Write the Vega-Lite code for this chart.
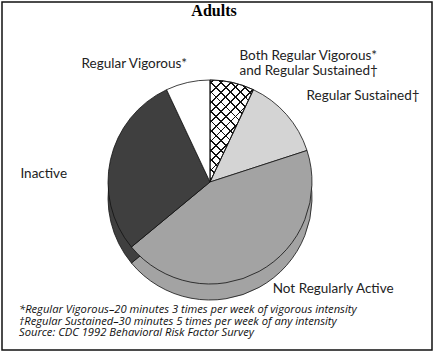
{
  "$schema": "https://vega.github.io/schema/vega-lite/v6.json",
  "background": "white",
  "padding": {"left": 1, "top": 1, "right": 9, "bottom": 10},
  "title": {"text": "Adults", "anchor": "middle", "frame": "group", "orient": "top", "offset": -23.5, "dx": -3, "dy": 7, "baseline": "alphabetic", "zindex": 1, "font": "Liberation Serif", "fontSize": 16, "fontWeight": "bold", "color": "#000"},
  "vconcat": [
    {
      "width": 430,
      "height": 348,
      "view": {"stroke": "#111", "strokeWidth": 1.5},
      "title": {
        "text": ["*Regular Vigorous–20 minutes 3 times per week of vigorous intensity", "†Regular Sustained–30 minutes 5 times per week of any intensity", "Source: CDC 1992 Behavioral Risk Factor Survey"],
        "orient": "bottom", "anchor": "start", "frame": "group", "offset": -46, "dx": 17, "baseline": "top",
        "font": "Open Sans", "fontSize": 11.2, "fontStyle": "italic", "fontWeight": "normal", "lineHeight": 11.6, "color": "#111"
      },
      "data": {"values": [
        {"category": "Both", "label": "Both Regular Vigorous*\nand Regular Sustained†", "value": 7},
        {"category": "Sustained", "label": "Regular Sustained†", "value": 13},
        {"category": "Not Regularly Active", "label": "Not Regularly Active", "value": 44},
        {"category": "Inactive", "label": "Inactive", "value": 29},
        {"category": "Vigorous", "label": "Regular Vigorous*", "value": 7}
      ]},
      "transform": [{"stack": "value", "groupby": [], "as": ["v0", "v1"]}],
      "layer": [
        {
          "mark": {"type": "arc", "outerRadius": 102, "xOffset": -7, "yOffset": 22, "stroke": "#111", "strokeWidth": 0.8},
          "encoding": {
            "theta": {"field": "v0", "type": "quantitative", "scale": {"domain": [0, 100]}},
            "theta2": {"field": "v1"},
            "color": {"field": "category", "type": "nominal", "legend": null,
              "scale": {"domain": ["Both", "Sustained", "Not Regularly Active", "Inactive", "Vigorous"], "range": ["#ffffff", "#d4d4d4", "#a3a3a3", "#3f3f3f", "#ffffff"]}}
          }
        },
        {
          "mark": {"type": "arc", "outerRadius": 102, "xOffset": -7, "yOffset": 6, "stroke": "#111", "strokeWidth": 0.8},
          "encoding": {
            "theta": {"field": "v0", "type": "quantitative", "scale": {"domain": [0, 100]}},
            "theta2": {"field": "v1"},
            "color": {"field": "category", "type": "nominal", "legend": null,
              "scale": {"domain": ["Both", "Sustained", "Not Regularly Active", "Inactive", "Vigorous"], "range": ["#ffffff", "#d4d4d4", "#a3a3a3", "#3f3f3f", "#ffffff"]}}
          }
        },
        {
          "transform": [{"filter": "datum.category === 'Both'"}],
          "mark": {"type": "arc", "outerRadius": 102, "xOffset": -7, "yOffset": 6, "strokeWidth": 0,
            "fill": {"gradient": "linear", "x1": 0, "y1": 1, "x2": 0.514, "y2": -0.207, "stops": [
              {"offset": 0.02, "color": "rgba(0,0,0,0)"}, {"offset": 0.02, "color": "#111"}, {"offset": 0.032, "color": "#111"}, {"offset": 0.032, "color": "rgba(0,0,0,0)"},
              {"offset": 0.0867, "color": "rgba(0,0,0,0)"}, {"offset": 0.0867, "color": "#111"}, {"offset": 0.0987, "color": "#111"}, {"offset": 0.0987, "color": "rgba(0,0,0,0)"},
              {"offset": 0.1533, "color": "rgba(0,0,0,0)"}, {"offset": 0.1533, "color": "#111"}, {"offset": 0.1653, "color": "#111"}, {"offset": 0.1653, "color": "rgba(0,0,0,0)"},
              {"offset": 0.22, "color": "rgba(0,0,0,0)"}, {"offset": 0.22, "color": "#111"}, {"offset": 0.232, "color": "#111"}, {"offset": 0.232, "color": "rgba(0,0,0,0)"},
              {"offset": 0.2867, "color": "rgba(0,0,0,0)"}, {"offset": 0.2867, "color": "#111"}, {"offset": 0.2987, "color": "#111"}, {"offset": 0.2987, "color": "rgba(0,0,0,0)"},
              {"offset": 0.3533, "color": "rgba(0,0,0,0)"}, {"offset": 0.3533, "color": "#111"}, {"offset": 0.3653, "color": "#111"}, {"offset": 0.3653, "color": "rgba(0,0,0,0)"},
              {"offset": 0.42, "color": "rgba(0,0,0,0)"}, {"offset": 0.42, "color": "#111"}, {"offset": 0.432, "color": "#111"}, {"offset": 0.432, "color": "rgba(0,0,0,0)"},
              {"offset": 0.4867, "color": "rgba(0,0,0,0)"}, {"offset": 0.4867, "color": "#111"}, {"offset": 0.4987, "color": "#111"}, {"offset": 0.4987, "color": "rgba(0,0,0,0)"},
              {"offset": 0.5533, "color": "rgba(0,0,0,0)"}, {"offset": 0.5533, "color": "#111"}, {"offset": 0.5653, "color": "#111"}, {"offset": 0.5653, "color": "rgba(0,0,0,0)"},
              {"offset": 0.62, "color": "rgba(0,0,0,0)"}, {"offset": 0.62, "color": "#111"}, {"offset": 0.632, "color": "#111"}, {"offset": 0.632, "color": "rgba(0,0,0,0)"},
              {"offset": 0.6867, "color": "rgba(0,0,0,0)"}, {"offset": 0.6867, "color": "#111"}, {"offset": 0.6987, "color": "#111"}, {"offset": 0.6987, "color": "rgba(0,0,0,0)"},
              {"offset": 0.7533, "color": "rgba(0,0,0,0)"}, {"offset": 0.7533, "color": "#111"}, {"offset": 0.7653, "color": "#111"}, {"offset": 0.7653, "color": "rgba(0,0,0,0)"},
              {"offset": 0.82, "color": "rgba(0,0,0,0)"}, {"offset": 0.82, "color": "#111"}, {"offset": 0.832, "color": "#111"}, {"offset": 0.832, "color": "rgba(0,0,0,0)"},
              {"offset": 0.8867, "color": "rgba(0,0,0,0)"}, {"offset": 0.8867, "color": "#111"}, {"offset": 0.8987, "color": "#111"}, {"offset": 0.8987, "color": "rgba(0,0,0,0)"},
              {"offset": 0.9533, "color": "rgba(0,0,0,0)"}, {"offset": 0.9533, "color": "#111"}, {"offset": 0.9653, "color": "#111"}, {"offset": 0.9653, "color": "rgba(0,0,0,0)"}
            ]}},
          "encoding": {
            "theta": {"field": "v0", "type": "quantitative", "scale": {"domain": [0, 100]}},
            "theta2": {"field": "v1"}
          }
        },
        {
          "transform": [{"filter": "datum.category === 'Both'"}],
          "mark": {"type": "arc", "outerRadius": 102, "xOffset": -7, "yOffset": 6, "strokeWidth": 0,
            "fill": {"gradient": "linear", "x1": 0, "y1": 0, "x2": 0.514, "y2": 1.207, "stops": [
              {"offset": 0.02, "color": "rgba(0,0,0,0)"}, {"offset": 0.02, "color": "#111"}, {"offset": 0.032, "color": "#111"}, {"offset": 0.032, "color": "rgba(0,0,0,0)"},
              {"offset": 0.0867, "color": "rgba(0,0,0,0)"}, {"offset": 0.0867, "color": "#111"}, {"offset": 0.0987, "color": "#111"}, {"offset": 0.0987, "color": "rgba(0,0,0,0)"},
              {"offset": 0.1533, "color": "rgba(0,0,0,0)"}, {"offset": 0.1533, "color": "#111"}, {"offset": 0.1653, "color": "#111"}, {"offset": 0.1653, "color": "rgba(0,0,0,0)"},
              {"offset": 0.22, "color": "rgba(0,0,0,0)"}, {"offset": 0.22, "color": "#111"}, {"offset": 0.232, "color": "#111"}, {"offset": 0.232, "color": "rgba(0,0,0,0)"},
              {"offset": 0.2867, "color": "rgba(0,0,0,0)"}, {"offset": 0.2867, "color": "#111"}, {"offset": 0.2987, "color": "#111"}, {"offset": 0.2987, "color": "rgba(0,0,0,0)"},
              {"offset": 0.3533, "color": "rgba(0,0,0,0)"}, {"offset": 0.3533, "color": "#111"}, {"offset": 0.3653, "color": "#111"}, {"offset": 0.3653, "color": "rgba(0,0,0,0)"},
              {"offset": 0.42, "color": "rgba(0,0,0,0)"}, {"offset": 0.42, "color": "#111"}, {"offset": 0.432, "color": "#111"}, {"offset": 0.432, "color": "rgba(0,0,0,0)"},
              {"offset": 0.4867, "color": "rgba(0,0,0,0)"}, {"offset": 0.4867, "color": "#111"}, {"offset": 0.4987, "color": "#111"}, {"offset": 0.4987, "color": "rgba(0,0,0,0)"},
              {"offset": 0.5533, "color": "rgba(0,0,0,0)"}, {"offset": 0.5533, "color": "#111"}, {"offset": 0.5653, "color": "#111"}, {"offset": 0.5653, "color": "rgba(0,0,0,0)"},
              {"offset": 0.62, "color": "rgba(0,0,0,0)"}, {"offset": 0.62, "color": "#111"}, {"offset": 0.632, "color": "#111"}, {"offset": 0.632, "color": "rgba(0,0,0,0)"},
              {"offset": 0.6867, "color": "rgba(0,0,0,0)"}, {"offset": 0.6867, "color": "#111"}, {"offset": 0.6987, "color": "#111"}, {"offset": 0.6987, "color": "rgba(0,0,0,0)"},
              {"offset": 0.7533, "color": "rgba(0,0,0,0)"}, {"offset": 0.7533, "color": "#111"}, {"offset": 0.7653, "color": "#111"}, {"offset": 0.7653, "color": "rgba(0,0,0,0)"},
              {"offset": 0.82, "color": "rgba(0,0,0,0)"}, {"offset": 0.82, "color": "#111"}, {"offset": 0.832, "color": "#111"}, {"offset": 0.832, "color": "rgba(0,0,0,0)"},
              {"offset": 0.8867, "color": "rgba(0,0,0,0)"}, {"offset": 0.8867, "color": "#111"}, {"offset": 0.8987, "color": "#111"}, {"offset": 0.8987, "color": "rgba(0,0,0,0)"},
              {"offset": 0.9533, "color": "rgba(0,0,0,0)"}, {"offset": 0.9533, "color": "#111"}, {"offset": 0.9653, "color": "#111"}, {"offset": 0.9653, "color": "rgba(0,0,0,0)"}
            ]}},
          "encoding": {
            "theta": {"field": "v0", "type": "quantitative", "scale": {"domain": [0, 100]}},
            "theta2": {"field": "v1"}
          }
        },
        {
          "transform": [{"filter": "datum.category === 'Both'"}],
          "mark": {"type": "arc", "outerRadius": 102, "xOffset": -7, "yOffset": 6, "fillOpacity": 0, "stroke": "#111", "strokeWidth": 0.8},
          "encoding": {
            "theta": {"field": "v0", "type": "quantitative", "scale": {"domain": [0, 100]}},
            "theta2": {"field": "v1"}
          }
        },
        {
          "mark": {"type": "text", "radius": 126, "align": "left", "baseline": "alphabetic", "dx": -5, "dy": 7, "font": "Lato", "fontSize": 13.5, "lineBreak": "\n", "lineHeight": 15, "color": "#222"},
          "encoding": {
            "theta": {"field": "value", "type": "quantitative", "stack": true, "scale": {"domain": [0, 100]}},
            "order": {"field": "v0", "type": "quantitative"},
            "detail": {"field": "category", "type": "nominal"},
            "text": {"condition": {"test": "datum.category === 'Both' || datum.category === 'Sustained' || datum.category === 'Not Regularly Active'", "field": "label", "type": "nominal"}, "value": ""}
          }
        },
        {
          "mark": {"type": "text", "radius": 126, "align": "right", "baseline": "alphabetic", "dx": -2.5, "dy": 15, "font": "Lato", "fontSize": 13.5, "color": "#222"},
          "encoding": {
            "theta": {"field": "value", "type": "quantitative", "stack": true, "scale": {"domain": [0, 100]}},
            "order": {"field": "v0", "type": "quantitative"},
            "detail": {"field": "category", "type": "nominal"},
            "text": {"condition": {"test": "datum.category === 'Vigorous'", "field": "label", "type": "nominal"}, "value": ""}
          }
        },
        {
          "mark": {"type": "text", "radius": 126, "align": "right", "baseline": "alphabetic", "dx": -27, "dy": 29, "font": "Lato", "fontSize": 13.5, "color": "#222"},
          "encoding": {
            "theta": {"field": "value", "type": "quantitative", "stack": true, "scale": {"domain": [0, 100]}},
            "order": {"field": "v0", "type": "quantitative"},
            "detail": {"field": "category", "type": "nominal"},
            "text": {"condition": {"test": "datum.category === 'Inactive'", "field": "label", "type": "nominal"}, "value": ""}
          }
        }
      ]
    }
  ]
}
